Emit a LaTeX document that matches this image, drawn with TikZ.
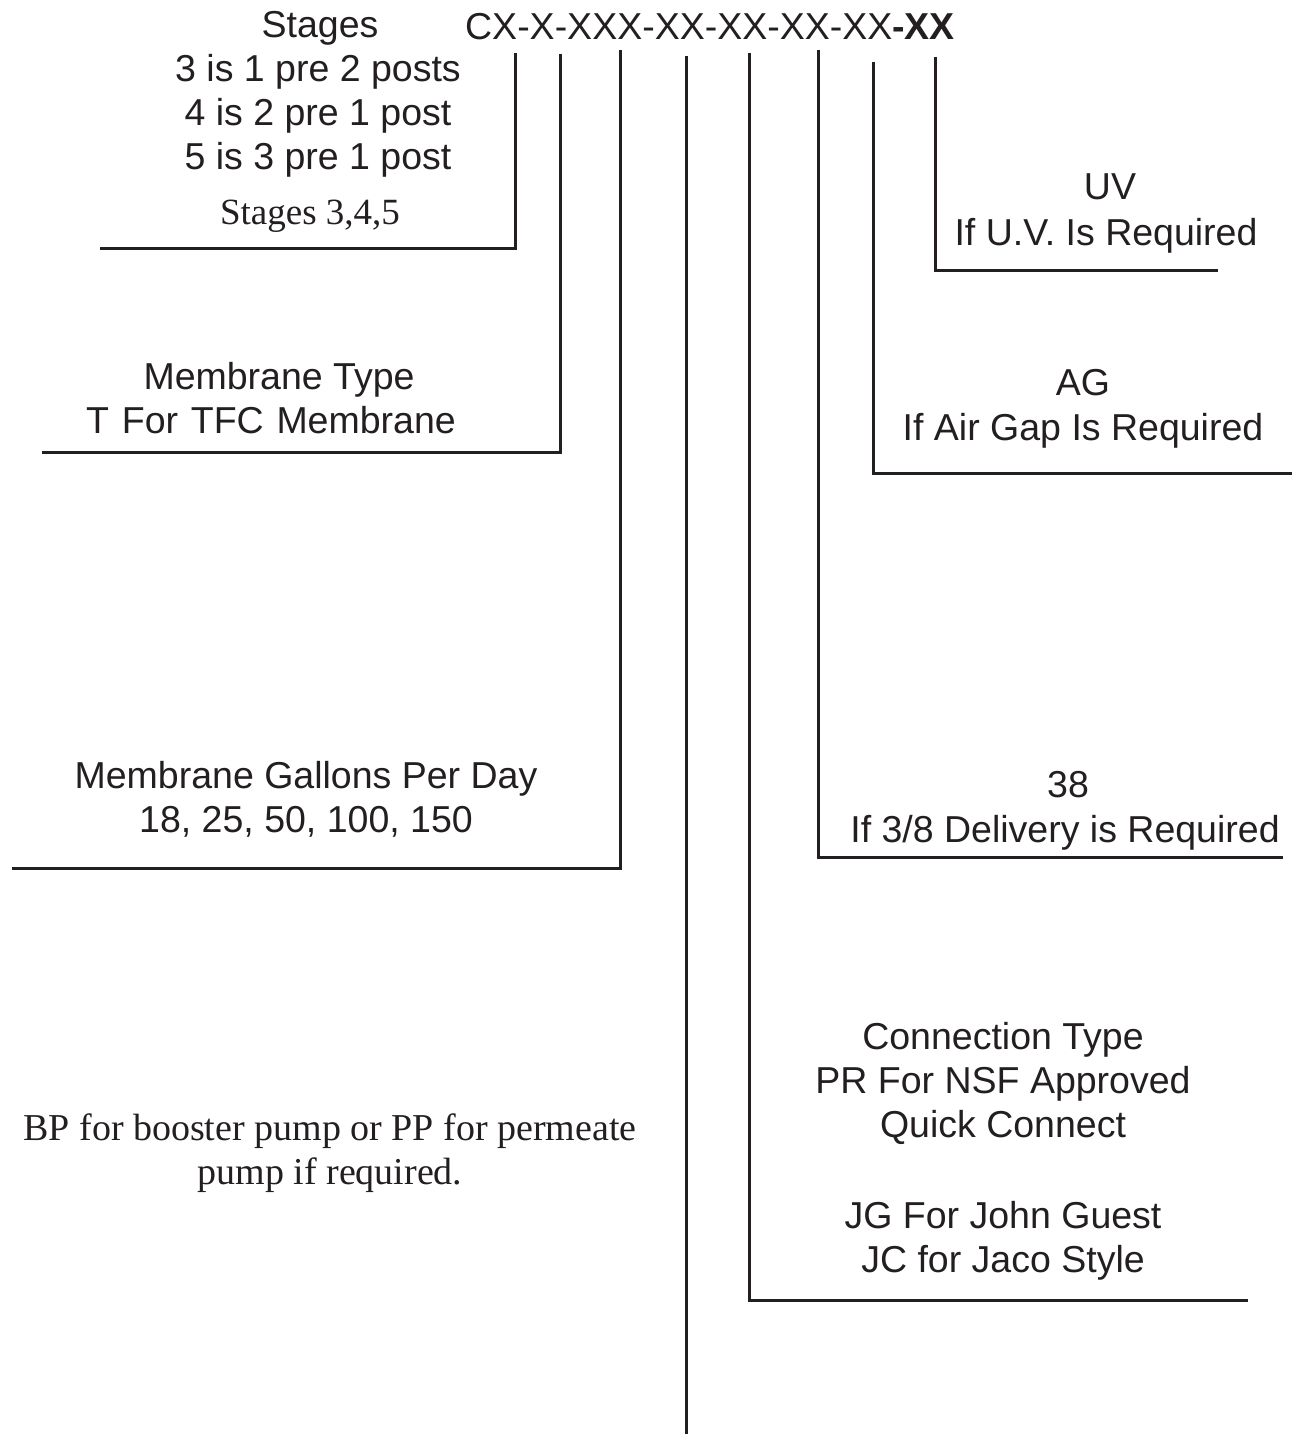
\documentclass[tikz,border=0pt]{standalone}
\usepackage{fontspec}
\setmainfont{Liberation Sans}
\newfontfamily\serifface{Liberation Serif}
\definecolor{ink}{HTML}{231F20}
\begin{document}
\begin{tikzpicture}[x=1pt,y=-1pt,
  txt/.style={anchor=base,inner sep=0pt,text=ink,font=\fontsize{37.5}{44}\selectfont},
  stxt/.style={anchor=base,inner sep=0pt,text=ink,font=\fontsize{38}{44}\selectfont\serifface},
  leader/.style={draw=ink,line width=3pt}]
\useasboundingbox (0,0) rectangle (1295,1434);

% code line
\node[txt] (code) at (710,40) {CX-X-XXX-XX-XX-XX-XX\textbf{-XX}};

% Stages block
\node[txt] (st0) at (320,38) {Stages};
\node[txt] (st1) at (318,82) {3 is 1 pre 2 posts};
\node[txt] (st2) at (318,126) {4 is 2 pre 1 post};
\node[txt] (st3) at (318,170) {5 is 3 pre 1 post};
\node[stxt,font=\fontsize{37}{44}\selectfont\serifface] (st4) at (310,224) {Stages 3,4,5};

% Membrane type
\node[txt] (mt0) at (279,389) {Membrane Type};
\node[txt] (mt1) at (271,433) {\spaceskip=0.34em\relax T For TFC Membrane};

% Membrane GPD
\node[txt] (mg0) at (306,788) {Membrane Gallons Per Day};
\node[txt] (mg1) at (306,832) {18, 25, 50, 100, 150};

% BP/PP
\node[stxt] (bp0) at (330,1140) {BP for booster pump or PP for permeate};
\node[stxt] (bp1) at (330,1184) {pump if required.};

% Connection type
\node[txt] (ct0) at (1003,1049) {Connection Type};
\node[txt] (ct1) at (1003,1093) {PR For NSF Approved};
\node[txt] (ct2) at (1003,1137) {Quick Connect};
\node[txt] (ct3) at (1003,1228) {JG For John Guest};
\node[txt] (ct4) at (1003,1272) {JC for Jaco Style};

% 38
\node[txt] (dl0) at (1068,797) {38};
\node[txt] (dl1) at (1065,842) {If 3/8 Delivery is Required};

% AG
\node[txt] (ag0) at (1083,395) {AG};
\node[txt] (ag1) at (1083,440) {If Air Gap Is Required};

% UV
\node[txt] (uv0) at (1110,200) {UV};
\node[txt] (uv1) at (1106,245) {If U.V. Is Required};

% leader tops (under the code) and ends
\coordinate (a1) at (515,53);  \coordinate (b1) at (100,248);
\coordinate (a2) at (560,54);  \coordinate (b2) at (42,452);
\coordinate (a3) at (620,50);  \coordinate (b3) at (12,868);
\coordinate (a4) at (686,56);  \coordinate (b4) at (686,1434);
\coordinate (a5) at (749,53);  \coordinate (b5) at (1248,1300);
\coordinate (a6) at (818,50);  \coordinate (b6) at (1283,857);
\coordinate (a7) at (873,62);  \coordinate (b7) at (1292,473);
\coordinate (a8) at (935,57);  \coordinate (b8) at (1218,270);

\draw[leader] (a1) |- (b1);
\draw[leader] (a2) |- (b2);
\draw[leader] (a3) |- (b3);
\draw[leader] (a4) -- (b4);
\draw[leader] (a5) |- (b5);
\draw[leader] (a6) |- (b6);
\draw[leader] (a7) |- (b7);
\draw[leader] (a8) |- (b8);
\end{tikzpicture}
\end{document}
